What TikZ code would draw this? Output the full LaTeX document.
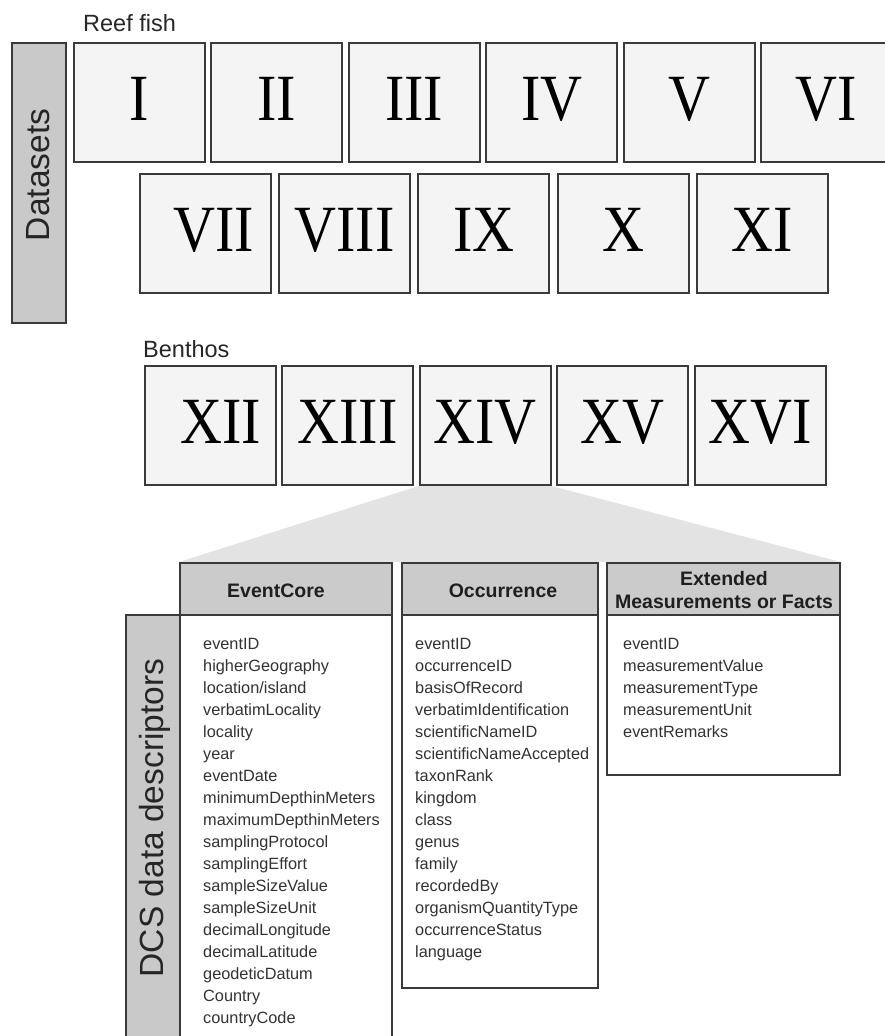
\documentclass[tikz,border=0pt]{standalone}
\usepackage{fontspec}
\setmainfont{Liberation Sans}
\newfontfamily\romanfont[FakeStretch=0.88]{Liberation Serif}
\usetikzlibrary{backgrounds}
\definecolor{boxline}{HTML}{3A3A3A}
\definecolor{boxfill}{HTML}{F4F4F4}
\definecolor{barfill}{HTML}{C9C9C9}
\definecolor{headfill}{HTML}{CBCBCB}
\definecolor{trapfill}{HTML}{E3E3E3}
\definecolor{bodytext}{HTML}{333333}
\begin{document}
\begin{tikzpicture}[x=1pt,y=-1pt,
  numbox/.style={draw=boxline, line width=2pt, fill=boxfill, inner sep=0pt,
    minimum width=131pt, minimum height=119pt,
    font=\romanfont\fontsize{66}{66}\selectfont, text=black, text depth=8pt},
  sidebar/.style={draw=boxline, line width=2pt, fill=barfill, inner sep=0pt},
  headbox/.style={draw=boxline, line width=2pt, fill=headfill, inner sep=0pt, minimum height=52pt},
  bodybox/.style={draw=boxline, line width=2pt, fill=white, inner sep=0pt},
  headtext/.style={font=\bfseries\fontsize{19.5}{23}\selectfont, text=black!88, inner sep=0pt, anchor=base, align=center},
  listtext/.style={font=\fontsize{16.3}{22}\selectfont, text=bodytext, inner sep=0pt, anchor=north west, align=left},
  grouptext/.style={font=\fontsize{23.5}{26}\selectfont, text=black!85, inner sep=0pt, anchor=base west},
  sidetext/.style={font=\fontsize{33.5}{36}\selectfont, text=black!85, inner sep=0pt, anchor=base, rotate=90}
]
\useasboundingbox (0,0) rectangle (885,1036);

% group labels
\node[grouptext] (reef) at (83,31) {Reef fish};
\node[grouptext] (benthos) at (143,357) {Benthos};

% Datasets side bar
\node[sidebar, minimum width=54pt, minimum height=280pt] (dsbar) at (39,183) {};
\node[sidetext] (dslabel) at (49,175) {Datasets};

% row 1
\foreach \t [count=\i] in {I,II,III,IV,V,VI}
  \node[numbox] (r1-\i) at ({139.5+137.4*(\i-1)},102.5) {\t};
% row 2
\foreach \t [count=\i] in {{\hspace*{16pt}VII},VIII,IX,X,XI}
  \node[numbox] (r2-\i) at ({205.5+139.2*(\i-1)},233.5) {\t};
% row 3
\foreach \t [count=\i] in {{\hspace*{22pt}XII},XIII,XIV,XV,XVI}
  \node[numbox] (r3-\i) at ({210+137.5*(\i-1)},425.5) {\t};

% table headers
\node[headbox, minimum width=212pt] (h1) at (286,589) {};
\node[headbox, minimum width=196pt] (h2) at (500,589) {};
\node[headbox, minimum width=233pt] (h3) at (723.5,589) {};
\node[headtext] (h1t) at (276,597) {EventCore};
\node[headtext] (h2t) at (503,597) {Occurrence};
\node[headtext] (h3t) at (724,608) {Extended\\Measurements or Facts};

% zoom trapezoid
\begin{scope}[on background layer]
  \fill[trapfill] (r3-3.south west) -- (r3-3.south east) -- (h3.north east) -- (h1.north west) -- cycle;
\end{scope}

% table bodies
\node[bodybox, minimum width=212pt, minimum height=430pt] (b1) at (286,830) {};
\node[bodybox, minimum width=196pt, minimum height=373pt] (b2) at (500,801.5) {};
\node[bodybox, minimum width=233pt, minimum height=160pt] (b3) at (723.5,695) {};

% DCS side bar
\node[sidebar, minimum width=54pt, minimum height=430pt] (dcsbar) at (153,830) {};
\node[sidetext] (dcslabel) at (163,818) {DCS data descriptors};

% lists
\node[listtext] (l1) at (203,638.4) {eventID\\higherGeography\\location/island\\verbatimLocality\\locality\\year\\eventDate\\minimumDepthinMeters\\maximumDepthinMeters\\samplingProtocol\\samplingEffort\\sampleSizeValue\\sampleSizeUnit\\decimalLongitude\\decimalLatitude\\geodeticDatum\\Country\\countryCode};
\node[listtext] (l2) at (415,638.4) {eventID\\occurrenceID\\basisOfRecord\\verbatimIdentification\\scientificNameID\\scientificNameAccepted\\taxonRank\\kingdom\\class\\genus\\family\\recordedBy\\organismQuantityType\\occurrenceStatus\\language};
\node[listtext] (l3) at (623,638.4) {eventID\\measurementValue\\measurementType\\measurementUnit\\eventRemarks};
\end{tikzpicture}
\end{document}
